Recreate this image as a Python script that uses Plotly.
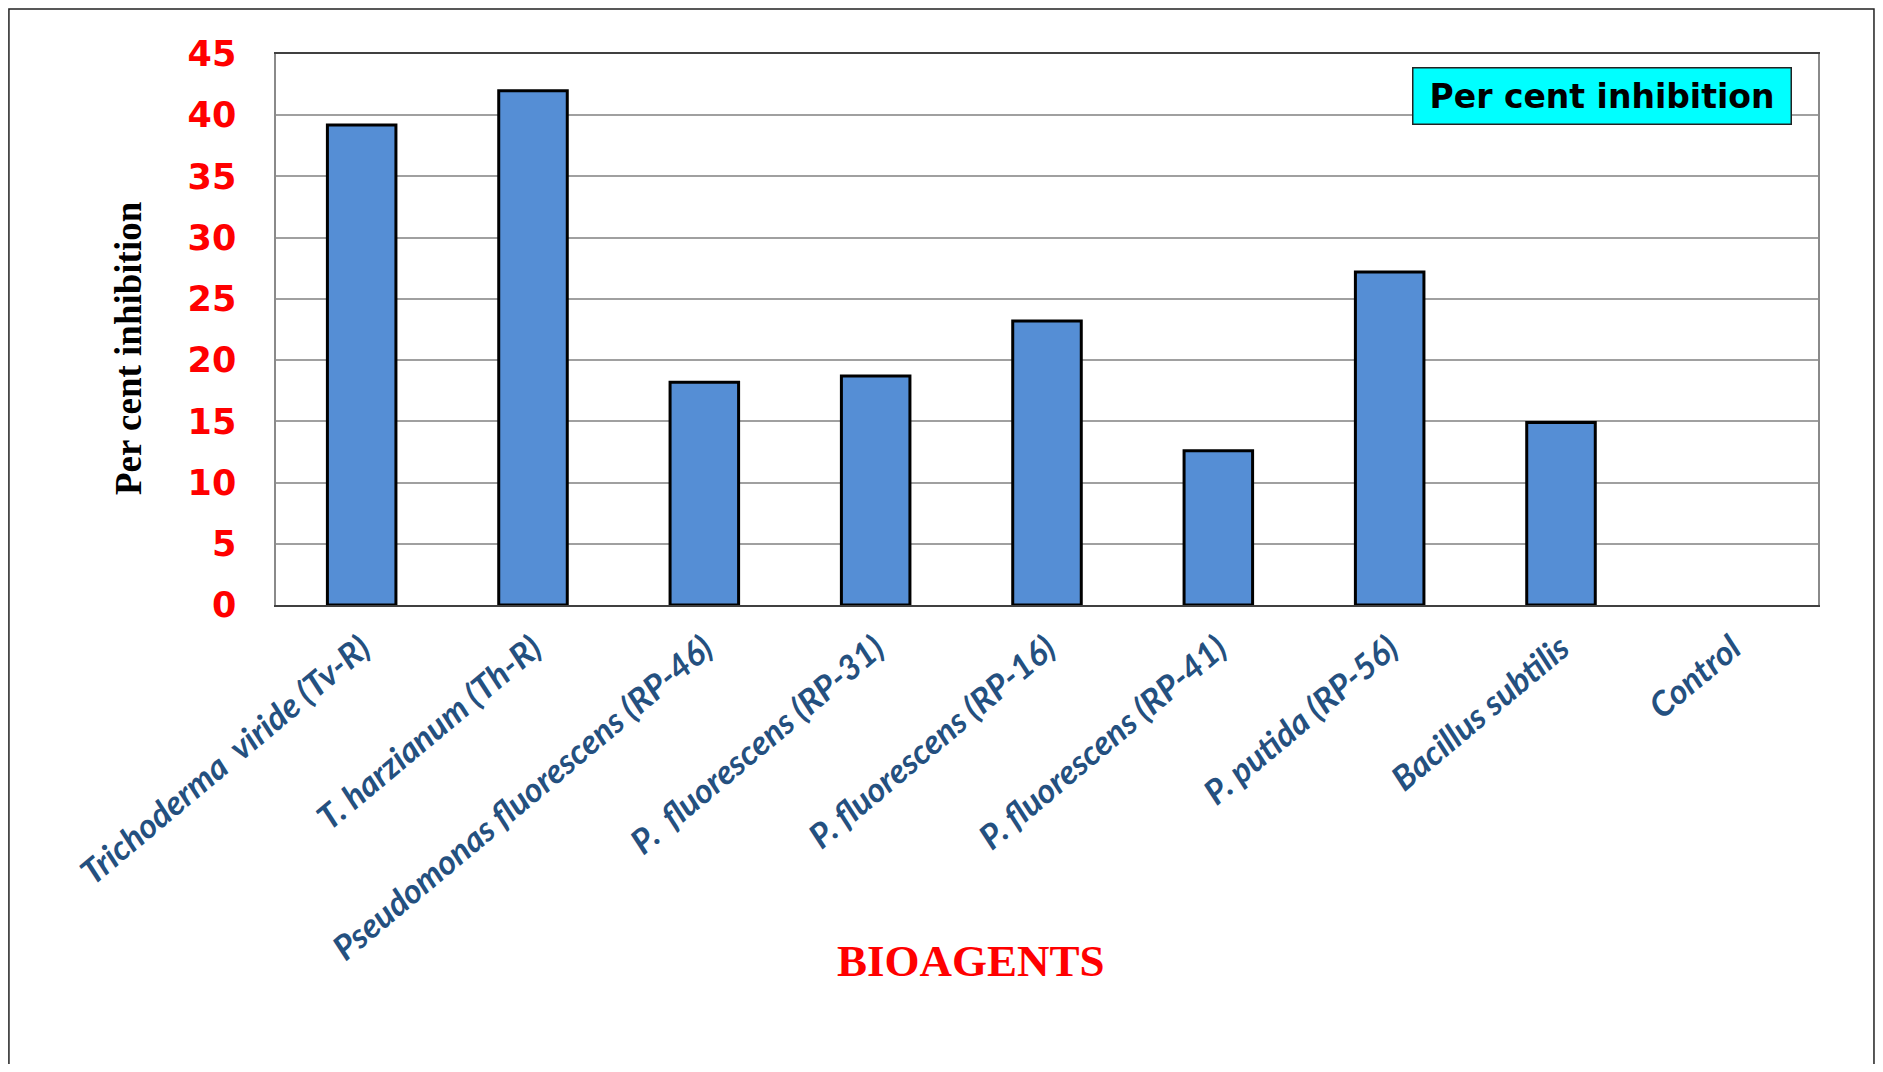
import plotly.graph_objects as go

# bioagents on the x axis, per cent inhibition
bioagents = [
    'Trichoderma  viride (Tv-R)',
    'T. harzianum (Th-R)',
    'Pseudomonas fluorescens (RP-46)',
    'P.  fluorescens (RP-31)',
    'P. fluorescens (RP-16)',
    'P. fluorescens (RP-41)',
    'P. putida (RP-56)',
    'Bacillus subtilis',
    'Control',
]
inhibition = [39.2, 42.0, 18.2, 18.7, 23.2, 12.6, 27.2, 14.9, 0]
y_ticks = [0, 5, 10, 15, 20, 25, 30, 35, 40, 45]

# no outline on the empty control bar
outline = [3 if v > 0 else 0 for v in inhibition]

fig = go.Figure()
fig.add_trace(go.Bar(
    x=bioagents, y=inhibition, name='Per cent inhibition',
    marker=dict(color='#558ed5', line=dict(color='#000000', width=outline)),
))

# page body has an 8px margin all round, so keep the figure inside the window
fig.update_layout(
    width=1867, height=1056,
    margin=dict(l=268, r=57, t=46, b=459),
    paper_bgcolor='white', plot_bgcolor='white',
    showlegend=False,
    bargap=0.6,
    xaxis=dict(
        type='category', showgrid=False, showline=True, linecolor='#404040',
        linewidth=2, mirror=True, ticks='', tickangle=-40, ticklabelstandoff=8,
        tickfont=dict(family='Lato', size=34, color='#24507f', style='italic', weight='bold'),
    ),
    yaxis=dict(
        range=[0, 45], tickvals=y_ticks, showgrid=True, gridcolor='#a0a0a0',
        gridwidth=1.5, zeroline=False, showline=True, linecolor='#8a8a8a',
        linewidth=1.5, mirror=True, ticks='', ticklabelstandoff=31,
        tickfont=dict(family='DejaVu Sans', size=35, color='#ff0000', weight='bold'),
    ),
    annotations=[
        dict(text='Per cent inhibition', xref='paper', yref='paper', x=-0.096, y=0.4664,
             xanchor='center', yanchor='middle', textangle=-90, showarrow=False,
             font=dict(family='Liberation Serif', size=37, color='black', weight='bold')),
        dict(text='BIOAGENTS', xref='paper', yref='paper', x=0.4507, y=-0.646,
             xanchor='center', yanchor='middle', showarrow=False,
             font=dict(family='Liberation Serif', size=45, color='#ff0000', weight='bold')),
        dict(text='Per cent inhibition', xref='paper', yref='paper', x=0.8602, y=0.9229,
             xanchor='center', yanchor='middle', showarrow=False,
             bgcolor='#00ffff', bordercolor='#222222', borderwidth=1.5,
             borderpad=3, width=371, height=49,
             font=dict(family='DejaVu Sans', size=33, color='black', weight='bold')),
    ],
    shapes=[
        # outer frame of the figure (left, top, right)
        dict(type='path', xref='paper', yref='paper',
             path='M -0.1732,-0.9 L -0.1732,1.0817 L 1.0363,1.0817 L 1.0363,-0.9',
             line=dict(color='#222222', width=1.5)),
    ],
)

fig.write_html('out.html')
